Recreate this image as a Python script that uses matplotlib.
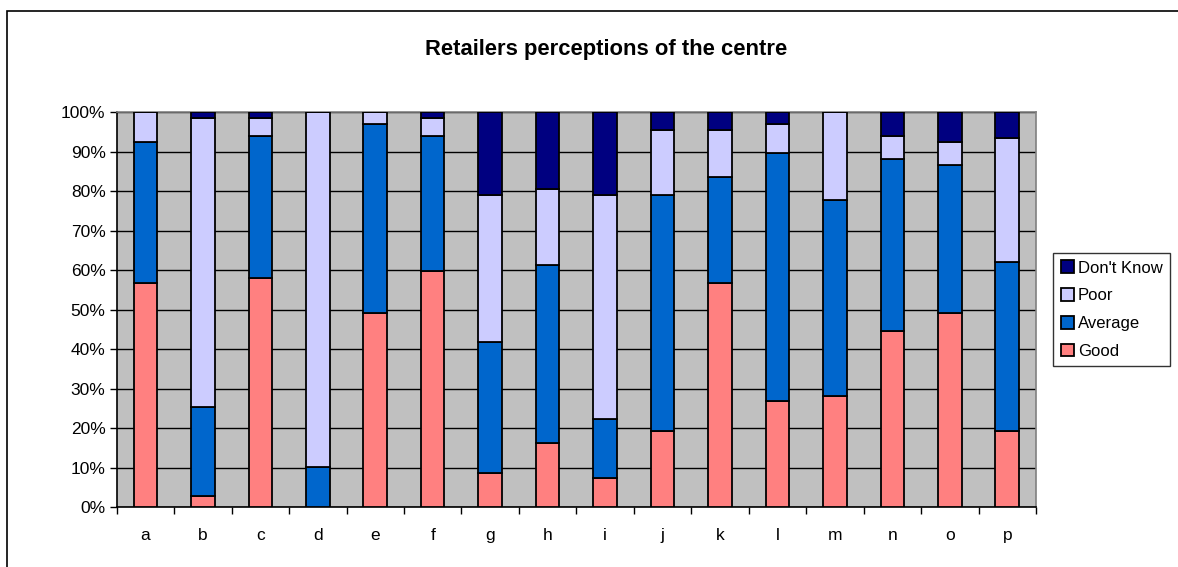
import matplotlib
matplotlib.use("Agg")
import matplotlib.pyplot as plt
from matplotlib.patches import Rectangle
from matplotlib.ticker import FixedLocator, PercentFormatter
import numpy as np

plt.rcParams['font.family'] = ['Liberation Sans', 'DejaVu Sans']

categories = list("abcdefghijklmnop")
good    = [56.7, 2.9, 58.1, 0.0, 49.3, 59.7, 8.8, 16.4, 7.4, 19.3, 56.7, 26.8, 28.3, 44.7, 49.3, 19.3]
average = [35.9, 22.4, 35.9, 10.3, 47.7, 34.3, 33.0, 44.9, 14.9, 59.7, 26.8, 62.8, 49.5, 43.4, 37.3, 42.9]
poor    = [7.4, 73.2, 4.5, 89.7, 3.0, 4.5, 37.2, 19.2, 56.7, 16.4, 11.9, 7.4, 22.2, 5.9, 5.9, 31.2]
dontknow = [0.0, 1.5, 1.5, 0.0, 0.0, 1.5, 21.0, 19.5, 21.0, 4.6, 4.6, 3.0, 0.0, 6.0, 7.5, 6.6]

series = [("Good", good, "#FF8080"), ("Average", average, "#0066CC"),
          ("Poor", poor, "#CCCCFF"), ("Don't Know", dontknow, "#000080")]

W, H = 1178, 567
fig = plt.figure(figsize=(W / 100, H / 100), dpi=100)
fig.patch.set_facecolor("white")

# outer chart border (left and top visible)
fig.patches.append(Rectangle((7 / W, -0.1), 1.2, (H - 11) / H + 0.1, transform=fig.transFigure,
                             fill=False, edgecolor="black", linewidth=1.2, clip_on=False))

left, right, top, bottom = 116.7, 1036, 112.3, 507.3
ax = fig.add_axes([left / W, 1 - bottom / H, (right - left) / W, (bottom - top) / H])
ax.set_facecolor("#C0C0C0")

x = np.arange(len(categories))
base = np.zeros(len(categories))
handles = []
for name, vals, col in series:
    v = np.array(vals)
    b = ax.bar(x, v, bottom=base, width=0.41, color=col, edgecolor="black", linewidth=1.3,
               label=name, zorder=3)
    handles.append(b)
    base += v

ax.set_xlim(-0.5, len(categories) - 0.5)
ax.set_ylim(0, 100)
ax.yaxis.set_major_locator(FixedLocator(np.arange(0, 101, 10)))
ax.yaxis.set_major_formatter(PercentFormatter(decimals=0))
ax.grid(axis="y", color="black", linewidth=1.0, zorder=1)
ax.set_axisbelow(True)

ax.set_xticks(x)
ax.set_xticklabels(categories)
ax.set_xticks(np.arange(-0.5, len(categories)), minor=True)
ax.tick_params(axis="x", which="major", length=0, pad=15, labelsize=12.5)
ax.tick_params(axis="x", which="minor", length=5, width=1, color="black", direction="out")
ax.tick_params(axis="y", length=5, width=1, color="black", direction="out", pad=3, labelsize=12.5)

for s in ["top", "right"]:
    ax.spines[s].set_color("#808080")
    ax.spines[s].set_linewidth(1.2)
for s in ["left", "bottom"]:
    ax.spines[s].set_color("black")
    ax.spines[s].set_linewidth(1.2)

fig.text(606 / W, 1 - 50 / H, "Retailers perceptions of the centre", ha="center", va="center",
         fontsize=15.8, fontweight="bold")

leg = fig.legend(handles=handles[::-1], labels=[s[0] for s in series][::-1],
                 loc="upper left", bbox_to_anchor=(1053 / W, 1 - 253 / H),
                 fontsize=12, frameon=True, fancybox=False, edgecolor="black",
                 handlelength=0.8, handleheight=0.8, handletextpad=0.25,
                 borderpad=0.45, labelspacing=0.75, borderaxespad=0)
leg.get_frame().set_linewidth(1.0)

fig.savefig("out.png", dpi=100)
